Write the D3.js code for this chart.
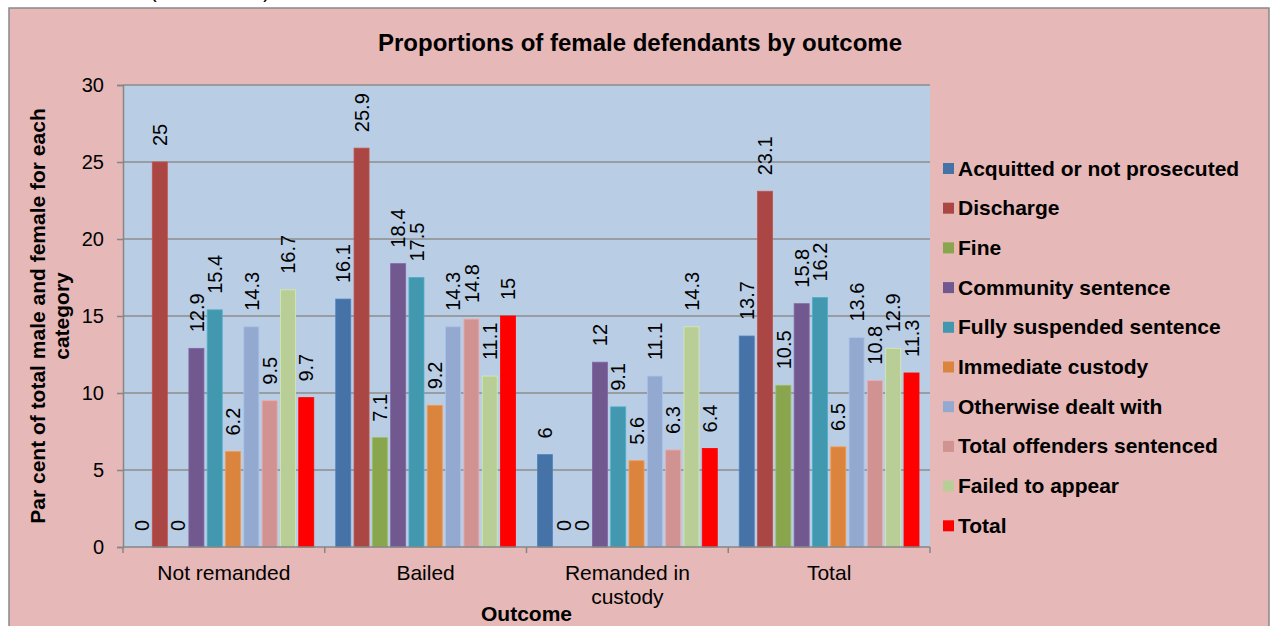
<!DOCTYPE html>
<html><head><meta charset="utf-8">
<script src="https://cdn.jsdelivr.net/npm/d3@7/dist/d3.min.js"></script>
<style>
body{margin:0;background:#fff;}
svg{display:block;font-family:"Liberation Sans",Arial,sans-serif;}
</style>
</head><body>
<svg id="chart" width="1270" height="626"></svg>
<script>
// ---- data ----
const categories = ["Not remanded", "Bailed", "Remanded in custody", "Total"];
const categoryLines = [["Not remanded"], ["Bailed"], ["Remanded in", "custody"], ["Total"]];
const seriesNames = ["Acquitted or not prosecuted", "Discharge", "Fine", "Community sentence",
  "Fully suspended sentence", "Immediate custody", "Otherwise dealt with",
  "Total offenders sentenced", "Failed to appear", "Total"];
const seriesColors = ["#4572A7", "#AA4643", "#89A54E", "#71588F", "#4198AF",
  "#DB843D", "#93A9CF", "#D19392", "#B9CD96", "#FF0000"];
const acquitted = [0, 16.1, 6, 13.7];
const discharge = [25, 25.9, 0, 23.1];
const fine = [0, 7.1, 0, 10.5];
const community = [12.9, 18.4, 12, 15.8];
const suspended = [15.4, 17.5, 9.1, 16.2];
const custody = [6.2, 9.2, 5.6, 6.5];
const otherwise = [14.3, 14.3, 11.1, 13.6];
const sentenced = [9.5, 14.8, 6.3, 10.8];
const failed = [16.7, 11.1, 14.3, 12.9];
const total = [9.7, 15, 6.4, 11.3];
const seriesValues = [acquitted, discharge, fine, community, suspended, custody, otherwise, sentenced, failed, total];
const yTicks = [0, 5, 10, 15, 20, 25, 30];

const titleText = "Proportions of female defendants by outcome";
const yTitleLines = ["Par cent of total male and female for each", "category"];
const xTitleText = "Outcome";

// ---- layout ----
const svg = d3.select("#chart");
const plot = {left: 123, right: 930, top: 85, bottom: 547};

// chart background
svg.append("rect").attr("x", 9).attr("y", 8).attr("width", 1260).attr("height", 640)
  .attr("fill", "#E6B8B7").attr("stroke", "#898989").attr("stroke-width", 1.5);

// partially cut caption at the very top (only its lowest pixels are visible)
svg.append("text").attr("x", 150).attr("y", -2).attr("font-size", 20)
  .attr("textLength", 120).attr("fill", "#000").text("(female defendants)");

// plot area
svg.append("rect").attr("x", plot.left).attr("y", plot.top)
  .attr("width", plot.right - plot.left).attr("height", plot.bottom - plot.top)
  .attr("fill", "#B9CDE5");

const y = d3.scaleLinear().domain([0, 30]).range([plot.bottom, plot.top]);
const x0 = d3.scaleBand().domain(categories).range([plot.left, plot.right]).padding(0);
const x1 = d3.scaleBand().domain(seriesNames).range([0, x0.bandwidth()])
  .paddingInner(0.18).paddingOuter(0.6);

// gridlines
svg.append("g").selectAll("line").data(yTicks.filter(t => t > 0)).join("line")
  .attr("x1", plot.left).attr("x2", plot.right)
  .attr("y1", d => y(d)).attr("y2", d => y(d))
  .attr("stroke", "#8C8C8C").attr("stroke-width", 1.5);

// bars
const groups = svg.append("g").selectAll("g").data(categories).join("g")
  .attr("transform", d => `translate(${x0(d)},0)`);
groups.each(function(cat, ci) {
  const g = d3.select(this);
  seriesNames.forEach((s, si) => {
    const v = seriesValues[si][ci];
    const c = seriesColors[si];
    if (v > 0) {
      g.append("rect").attr("x", x1(s)).attr("y", y(v))
        .attr("width", x1.bandwidth()).attr("height", y(0) - y(v))
        .attr("fill", c).attr("stroke", d3.color(c).brighter(0.4)).attr("stroke-width", 0.8);
    }
  });
  seriesNames.forEach((s, si) => {
    const v = seriesValues[si][ci];
    const cx = x1(s) + x1.bandwidth() / 2;
    const ty = y(v) - 16;
    g.append("text").attr("transform", `translate(${cx},${ty}) rotate(-90)`)
      .attr("dy", "0.36em").attr("text-anchor", "start")
      .attr("font-size", 20).attr("fill", "#000").text(String(v));
  });
});

// y axis
const yAxis = svg.append("g").attr("transform", `translate(${plot.left},0)`)
  .call(d3.axisLeft(y).tickValues(yTicks).tickSize(6).tickPadding(13).tickFormat(d3.format("d")));
yAxis.select(".domain").attr("stroke", "#868686").attr("stroke-width", 1.5);
yAxis.selectAll(".tick line").attr("stroke", "#868686").attr("stroke-width", 1.5);
yAxis.selectAll(".tick text").attr("font-size", 20).attr("fill", "#000")
  .attr("font-family", "Liberation Sans, Arial, sans-serif");

// x axis
const xAxisG = svg.append("g").attr("transform", `translate(0,${plot.bottom})`);
xAxisG.append("line").attr("x1", plot.left).attr("x2", plot.right).attr("y1", 0).attr("y2", 0)
  .attr("stroke", "#868686").attr("stroke-width", 1.5);
const boundaries = categories.map(c => x0(c)).concat([x0(categories[categories.length - 1]) + x0.bandwidth()]);
xAxisG.selectAll("line.tk").data(boundaries).join("line").attr("class", "tk")
  .attr("x1", d => d).attr("x2", d => d).attr("y1", 0).attr("y2", 6)
  .attr("stroke", "#868686").attr("stroke-width", 1.5);
categories.forEach((c, i) => {
  const t = xAxisG.append("text").attr("x", x0(c) + x0.bandwidth() / 2).attr("y", 33)
    .attr("text-anchor", "middle").attr("font-size", 21).attr("fill", "#000");
  categoryLines[i].forEach((ln, li) => {
    t.append("tspan").attr("x", x0(c) + x0.bandwidth() / 2).attr("dy", li === 0 ? 0 : 24).text(ln);
  });
});

// title
svg.append("text").attr("x", 640).attr("y", 51).attr("text-anchor", "middle")
  .attr("font-size", 24).attr("font-weight", "bold").attr("fill", "#000").text(titleText);

// axis titles
const yt = svg.append("text").attr("transform", `translate(45,${(plot.top + plot.bottom) / 2}) rotate(-90)`)
  .attr("text-anchor", "middle").attr("font-size", 21).attr("font-weight", "bold").attr("fill", "#000");
yTitleLines.forEach((ln, li) => {
  yt.append("tspan").attr("x", 0).attr("dy", li === 0 ? 0 : 24).text(ln);
});
svg.append("text").attr("x", (plot.left + plot.right) / 2).attr("y", 621).attr("text-anchor", "middle")
  .attr("font-size", 21).attr("font-weight", "bold").attr("fill", "#000").text(xTitleText);

// legend
const legend = svg.append("g").selectAll("g").data(seriesNames).join("g")
  .attr("transform", (d, i) => `translate(943,${163 + i * 39.7})`);
legend.append("rect").attr("width", 11).attr("height", 11).attr("fill", (d, i) => seriesColors[i]);
legend.append("text").attr("x", 15).attr("y", 12.5).attr("font-size", 21).attr("font-weight", "bold")
  .attr("fill", "#000").text(d => d);
</script>
</body></html>
